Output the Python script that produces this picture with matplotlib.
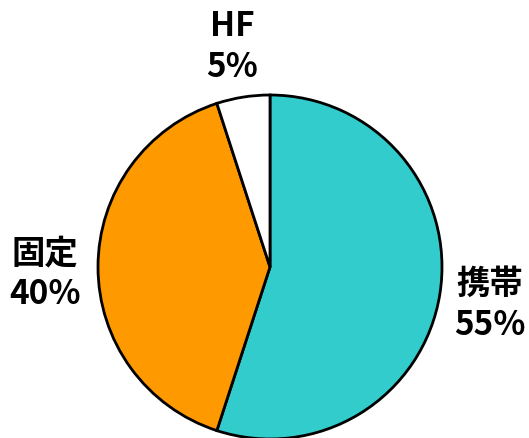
import matplotlib.pyplot as plt

plt.rcParams['font.family'] = ['Noto Sans CJK JP', 'DejaVu Sans']

# data
categories = ['携帯', '固定', 'HF']
shares = [55, 40, 5]
colors = ['#33CCCC', '#FF9900', '#FFFFFF']

# label placement (pixel coords, y up)
label_pos = [(490, 134), (45, 165), (232, 392)]

fig = plt.figure(figsize=(5.29, 4.39), dpi=100)
ax = fig.add_axes([0, 0, 1, 1])

ax.pie(shares, colors=colors, startangle=90, counterclock=False,
       center=(270, 171), radius=172, frame=True,
       wedgeprops=dict(edgecolor='black', linewidth=2))

for cat, val, (x, y) in zip(categories, shares, label_pos):
    ax.text(x, y, f"{cat}\n{val}%", ha='center', va='center',
            fontsize=24, fontweight='bold', linespacing=1.3)

ax.set_xlim(0, 529)
ax.set_ylim(0, 439)
ax.set_aspect('equal')
ax.axis('off')

fig.savefig('out.png', dpi=100, facecolor='white')
